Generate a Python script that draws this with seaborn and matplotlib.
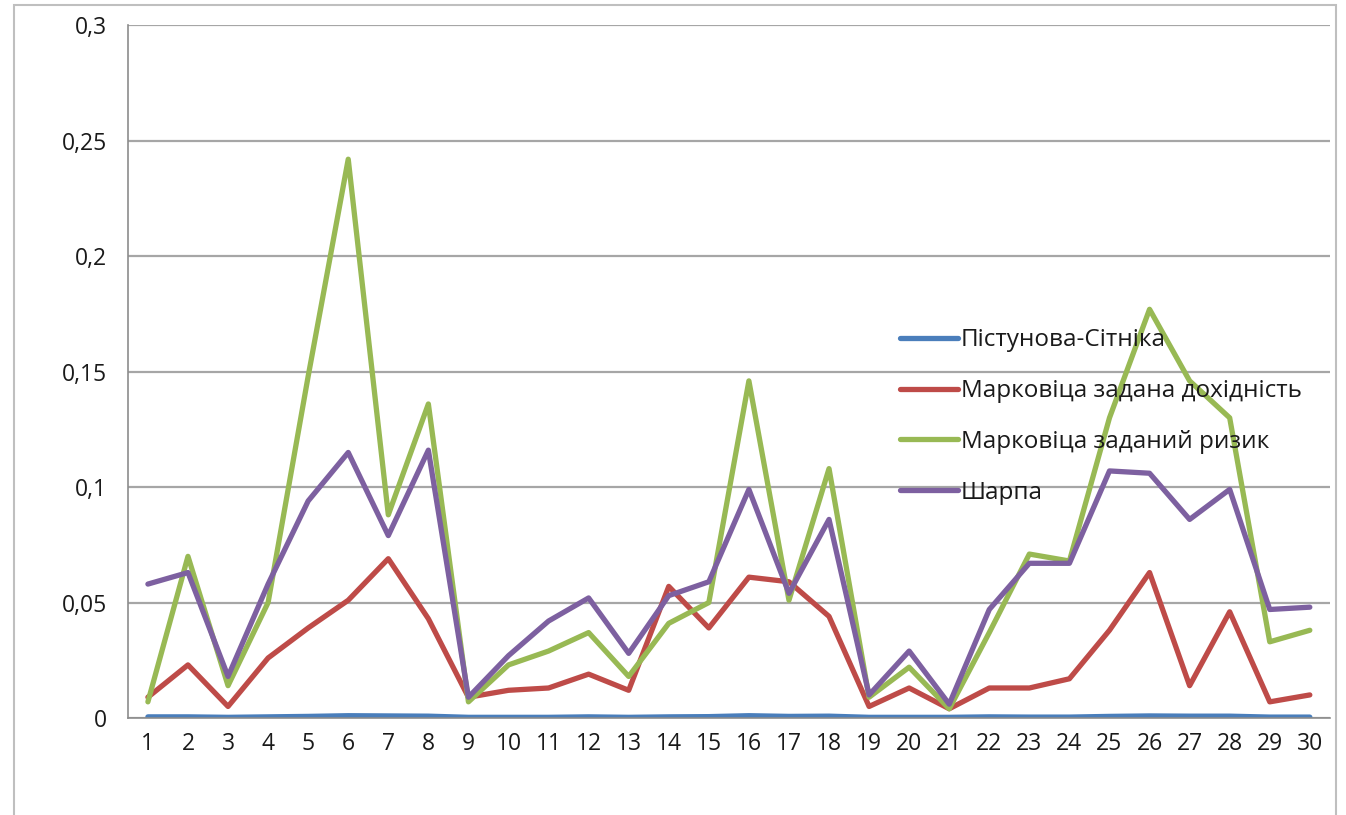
import numpy as np
import pandas as pd
import matplotlib
matplotlib.use('Agg')
import matplotlib.pyplot as plt
from matplotlib.patches import Rectangle
import seaborn as sns

# Values
periods = list(range(1, 31))
pistunova = [0.0005, 0.0005, 0.0003, 0.0005, 0.0007, 0.001, 0.0009, 0.0008, 0.0003, 0.0003,
             0.0003, 0.0005, 0.0003, 0.0005, 0.0006, 0.001, 0.0007, 0.0008, 0.0003, 0.0003,
             0.0003, 0.0005, 0.0004, 0.0004, 0.0007, 0.0009, 0.0008, 0.0008, 0.0004, 0.0004]
markowitz_return = [0.009, 0.023, 0.005, 0.026, 0.039, 0.051, 0.069, 0.043, 0.009, 0.012,
                    0.013, 0.019, 0.012, 0.057, 0.039, 0.061, 0.059, 0.044, 0.005, 0.013,
                    0.004, 0.013, 0.013, 0.017, 0.038, 0.063, 0.014, 0.046, 0.007, 0.010]
markowitz_risk = [0.007, 0.070, 0.014, 0.050, 0.148, 0.242, 0.088, 0.136, 0.007, 0.023,
                  0.029, 0.037, 0.018, 0.041, 0.050, 0.146, 0.051, 0.108, 0.009, 0.022,
                  0.004, 0.037, 0.071, 0.068, 0.130, 0.177, 0.146, 0.130, 0.033, 0.038]
sharpe = [0.058, 0.063, 0.018, 0.058, 0.094, 0.115, 0.079, 0.116, 0.009, 0.027,
          0.042, 0.052, 0.028, 0.053, 0.059, 0.099, 0.054, 0.086, 0.010, 0.029,
          0.006, 0.047, 0.067, 0.067, 0.107, 0.106, 0.086, 0.099, 0.047, 0.048]

series_names = ['Пістунова-Сітніка', 'Марковіца задана дохідність',
                'Марковіца заданий ризик', 'Шарпа']
colors = ['#4A7EBB', '#BE4B48', '#98B954', '#7D60A0']
y_ticks = [0, 0.05, 0.1, 0.15, 0.2, 0.25, 0.3]
y_labels = ['0', '0,05', '0,1', '0,15', '0,2', '0,25', '0,3']

df = pd.DataFrame({
    'period': periods * 4,
    'value': pistunova + markowitz_return + markowitz_risk + sharpe,
    'series': sum([[n] * len(periods) for n in series_names], []),
})

sns.set_style('white')
plt.rcParams['font.family'] = ['Open Sans', 'DejaVu Sans']

fig = plt.figure(figsize=(13.46, 8.15), dpi=100)
ax = fig.add_axes([0.095, 0.119, 0.893, 0.85])

# outer chart border
fig.add_artist(Rectangle((14 / 1346, -0.01), 1322 / 1346, 1 - 5 / 815 + 0.01,
                         transform=fig.transFigure, fill=False,
                         edgecolor='#bfbfbf', linewidth=1.5))

sns.lineplot(data=df, x='period', y='value', hue='series', hue_order=series_names,
             palette=colors, linewidth=3.8, ax=ax)

ax.set_xlim(0.5, 30.5)
ax.set_ylim(0, 0.3)
ax.set_yticks(y_ticks)
ax.set_yticklabels(y_labels)
ax.set_xticks(periods)
ax.set_xticklabels([str(p) for p in periods])
ax.set_xticks(np.arange(0.5, 31, 1), minor=True)
ax.tick_params(axis='x', which='major', length=0, pad=10, labelsize=16.5, labelcolor='#1a1a1a')
ax.tick_params(axis='x', which='minor', length=6, color='#8c8c8c', width=1.2, direction='out')
ax.tick_params(axis='y', length=7, color='#8c8c8c', width=1.2, direction='out',
               pad=8, labelsize=16.5, labelcolor='#1a1a1a')
ax.grid(axis='y', color='#a6a6a6', linewidth=1.6)
ax.set_axisbelow(True)
for s in ['top', 'right']:
    ax.spines[s].set_visible(False)
ax.spines['left'].set_color('#8c8c8c')
ax.spines['bottom'].set_color('#8c8c8c')
ax.spines['left'].set_linewidth(1.2)
ax.spines['bottom'].set_linewidth(1.2)
ax.set_xlabel('')
ax.set_ylabel('')

leg = ax.legend(loc='upper left', bbox_to_anchor=(0.624, 0.594), frameon=False,
                fontsize=17.5, handlelength=2.4, handletextpad=0.1, labelspacing=1.1,
                borderpad=0.4)
for line in leg.get_lines():
    line.set_linewidth(3.8)
for t in leg.get_texts():
    t.set_color('#1a1a1a')

fig.savefig('out.png', dpi=100)
